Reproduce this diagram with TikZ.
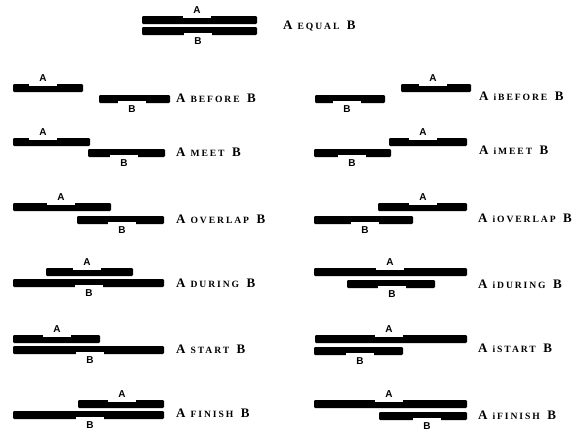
\documentclass[tikz,border=0pt]{standalone}
\usepackage{fontspec}
\setmainfont{Liberation Serif}
\setsansfont{Liberation Sans}
% interval bar with its label above (#1 name, #2 left, #3 right, #4 y, #5 label x)
\newcommand\ivA[5]{%
  \node[bar, minimum width={(#3)-(#2)}] (#1) at ({((#2)+(#3))/2},#4) {};
  \node[labA] (#1-lab) at (#5,#4-2) {A};}
% interval bar with its label below
\newcommand\ivB[5]{%
  \node[bar, minimum width={(#3)-(#2)}] (#1) at ({((#2)+(#3))/2},#4) {};
  \node[labB] (#1-lab) at (#5,#4+2) {B};}
% relation name, set in spaced small capitals
\newcommand\relword[1]{\hspace{5pt}{\fontsize{9.6}{9.6}\selectfont\addfontfeature{LetterSpace=20}#1}\hspace{7.5pt}}
\begin{document}
\begin{tikzpicture}[x=1pt,y=-1pt,
  bar/.style={fill=black, inner sep=0pt, minimum height=8pt, rounded corners=1.2pt},
  notch/.style={fill=white, inner xsep=0pt, minimum width=28pt, text depth=0pt,
    font=\sffamily\bfseries\fontsize{10}{10}\selectfont},
  labA/.style={notch, anchor=south, inner ysep=4pt},
  labB/.style={notch, anchor=north, inner ysep=4.5pt},
  rel/.style={anchor=west, inner sep=0pt, text depth=0pt,
    font=\bfseries\fontsize{13}{13}\selectfont}]
\fill[white] (0,0) rectangle (583,431);
\useasboundingbox (0,0) rectangle (583,431);

% equal
\ivA{eqA}{142}{257}{20}{197}
\ivB{eqB}{142}{257}{31}{198}
\node[rel] (t-eq) at (283,25) {A\relword{EQUAL}B};

% left column
\ivA{bfA}{13}{83}{88}{43}
\ivB{bfB}{99}{170}{99}{132}
\node[rel] (t-bf) at (176,98) {A\relword{BEFORE}B};

\ivA{mtA}{13}{90}{142}{43}
\ivB{mtB}{88}{165}{153}{124}
\node[rel] (t-mt) at (176,152) {A\relword{MEET}B};

\ivA{ovA}{13}{111}{207}{61}
\ivB{ovB}{77}{164}{220}{122}
\node[rel] (t-ov) at (176,219) {A\relword{OVERLAP}B};

\ivA{drA}{46}{133}{272}{87}
\ivB{drB}{13}{164}{283}{89}
\node[rel] (t-dr) at (176,283) {A\relword{DURING}B};

\ivA{stA}{13}{100}{339}{57}
\ivB{stB}{13}{164}{350}{90}
\node[rel] (t-st) at (176,349) {A\relword{START}B};

\ivA{fnA}{78}{164}{404}{122}
\ivB{fnB}{13}{164}{415}{90}
\node[rel] (t-fn) at (176,413) {A\relword{FINISH}B};

% right column (inverse relations)
\ivA{ibfA}{401}{471}{88}{433}
\ivB{ibfB}{315}{385}{99}{347}
\node[rel] (t-ibf) at (479,96) {A\relword{iBEFORE}B};

\ivA{imtA}{389}{467}{142}{423}
\ivB{imtB}{314}{391}{153}{352}
\node[rel] (t-imt) at (479,150) {A\relword{iMEET}B};

\ivA{iovA}{378}{467}{207}{423}
\ivB{iovB}{314}{413}{220}{365}
\node[rel] (t-iov) at (478,218) {A\relword{iOVERLAP}B};

\ivA{idrA}{314}{467}{272}{390}
\ivB{idrB}{347}{435}{284}{392}
\node[rel] (t-idr) at (478,284) {A\relword{iDURING}B};

\ivA{istA}{315}{467}{339}{389}
\ivB{istB}{314}{403}{351}{360}
\node[rel] (t-ist) at (478,348) {A\relword{iSTART}B};

\ivA{ifnA}{314}{467}{404}{389}
\ivB{ifnB}{379}{467}{416}{427}
\node[rel] (t-ifn) at (478,415) {A\relword{iFINISH}B};
\end{tikzpicture}
\end{document}
